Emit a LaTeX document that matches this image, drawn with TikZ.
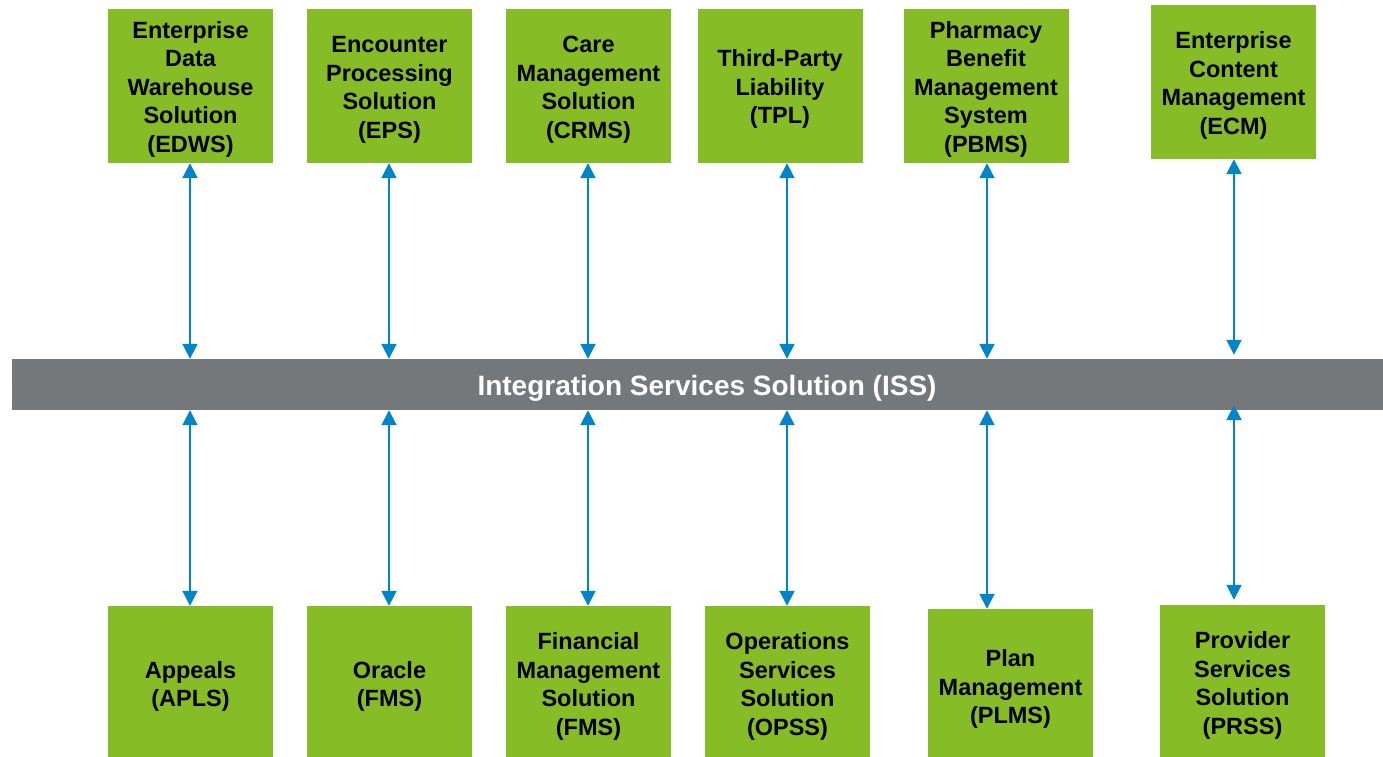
\documentclass[tikz,border=0pt]{standalone}
\usepackage{fontspec}
\setmainfont{Liberation Sans}
\usetikzlibrary{arrows.meta}
\definecolor{sysgreen}{RGB}{134,188,37}
\definecolor{issgray}{RGB}{117,120,123}
\definecolor{linkblue}{RGB}{0,133,202}
\tikzset{>={Triangle[width=15pt,length=15pt]}}
\newcommand{\topline}{\rule{0pt}{23.5pt}}

\begin{document}
\begin{tikzpicture}[x=1pt,y=-1pt]
    \tikzstyle{snode} = [rectangle, fill=sysgreen, minimum width=165pt, minimum height=154pt, inner sep=0pt, align=center, font=\fontsize{23.5}{28.5}\selectfont\bfseries]
    \tikzstyle{link} = [<->, draw=linkblue, fill=linkblue, line width=2pt]

    \useasboundingbox (0,0) rectangle (1383,756);
    \clip (0,0) rectangle (1383,756);

    \node[fill=issgray, minimum width=1390pt, minimum height=51pt, inner sep=0pt, text height=28pt, text depth=5.5pt, text=white, font=\fontsize{28}{34}\selectfont\bfseries] (ISS) at (707,384.5) {Integration Services Solution (ISS)};

    % upper systems
    \node[snode] (EDWS) at (190.5,86) {\topline Enterprise\\Data\\Warehouse\\Solution\\(EDWS)};
    \node[snode] (EPS) at (389.5,86) {\topline Encounter\\Processing\\Solution\\(EPS)};
    \node[snode] (CRMS) at (588.5,86) {\topline Care\\Management\\Solution\\(CRMS)};
    \node[snode] (TPL) at (780,86) {\topline Third-Party\\Liability\\(TPL)};
    \node[snode] (PBMS) at (986,86) {\topline Pharmacy\\Benefit\\Management\\System\\(PBMS)};
    \node[snode] (ECM) at (1233.5,82) {\topline Enterprise\\Content\\Management\\(ECM)};

    % lower systems
    \node[snode] (APLS) at (190.5,683) {\topline Appeals\\(APLS)};
    \node[snode] (Oracle) at (389.5,683) {\topline Oracle\\(FMS)};
    \node[snode] (FMS) at (588.5,683) {\topline Financial\\Management\\Solution\\(FMS)};
    \node[snode] (OPSS) at (787.5,683) {\topline Operations\\Services\\Solution\\(OPSS)};
    \node[snode] (PLMS) at (1010.5,686) {\topline Plan\\Management\\(PLMS)};
    \node[snode] (PRSS) at (1242.5,682) {\topline Provider\\Services\\Solution\\(PRSS)};

    \foreach \up/\down/\col [count=\i] in {EDWS/APLS/190, EPS/Oracle/389, CRMS/FMS/588, TPL/OPSS/787, PBMS/PLMS/987} {
      \coordinate (col\i) at (\col,0);
      \draw[link] (\up.south -| col\i) -- (col\i |- ISS.north);
      \draw[link] (col\i |- ISS.south) -- (\down.north -| col\i);
    }
    \coordinate (col6) at (1234,0);
    \draw[link, shorten >=4pt] (ECM.south -| col6) -- (col6 |- ISS.north);
    \draw[link, shorten <=-5pt, shorten >=5pt] (col6 |- ISS.south) -- (PRSS.north -| col6);
\end{tikzpicture}
\end{document}
